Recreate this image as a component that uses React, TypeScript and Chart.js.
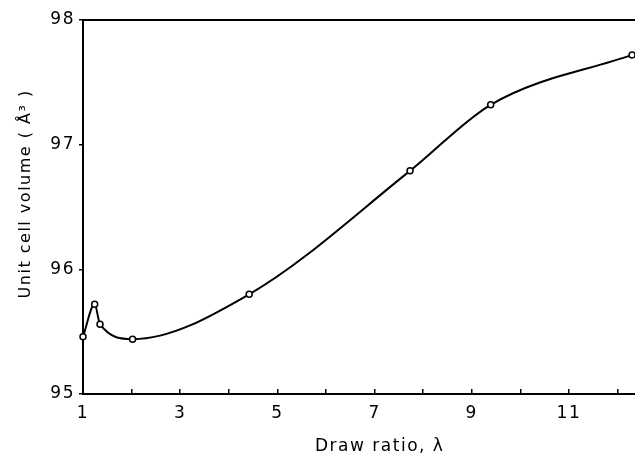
import React, { useEffect, useRef } from "react";
import { Chart, registerables } from "chart.js";

Chart.register(...registerables);

const drawRatio = [1.0, 1.24, 1.35, 2.02, 4.42, 7.73, 9.39, 12.3];
const cellVolume = [95.46, 95.72, 95.56, 95.44, 95.8, 96.79, 97.32, 97.72];
const xTickLabels = [1, 3, 5, 7, 9, 11];
const yTickLabels = [95, 96, 97, 98];

const FONT = "'DejaVu Sans', sans-serif";

export default function App() {
  const ref = useRef<HTMLCanvasElement>(null);
  useEffect(() => {
    const canvas = ref.current!;
    const spacing = {
      id: "spacing",
      beforeDraw(chart: any) {
        chart.ctx.letterSpacing = "1.5px";
      },
    };
    const stretchRight = {
      id: "stretchRight",
      afterLayout(chart: any) {
        const right = chart.width;
        chart.chartArea.right = right;
        chart.chartArea.width = right - chart.chartArea.left;
        Object.values(chart.scales).forEach((s: any) => {
          if (s.isHorizontal()) {
            s.right = right;
            s.width = right - s.left;
            s.configure();
          }
        });
      },
    };
    const zeroPad = (s: any) => {
      s.paddingLeft = 0;
      s.paddingRight = 0;
    };
    const chart = new Chart(canvas, {
      type: "scatter",
      data: {
        datasets: [
          {
            data: drawRatio.map((x, i) => ({ x, y: cellVolume[i] })),
            showLine: true,
            cubicInterpolationMode: "monotone",
            borderColor: "#000",
            borderWidth: 2,
            pointRadius: 3,
            pointBorderWidth: 1.5,
            pointBackgroundColor: "#fff",
            pointBorderColor: "#000",
          },
        ],
      },
      options: {
        responsive: false,
        animation: false,
        clip: false as any,
        layout: { padding: { left: 0, right: 0, top: 0, bottom: 0 } },
        plugins: { legend: { display: false }, tooltip: { enabled: false } },
        scales: {
          x: {
            type: "linear",
            position: "bottom",
            min: 1,
            max: 12.36,
            afterBuildTicks: (s: any) => {
              const t = [];
              for (let v = 1; v <= 12; v++) t.push({ value: v });
              s.ticks = t;
            },
            afterFit: (s: any) => {
              s.height = 65;
              zeroPad(s);
            },
            ticks: {
              color: "#000",
              font: { family: FONT, size: 17 },
              padding: 14,
              maxRotation: 0,
              autoSkip: false,
              callback: (v: any) => (xTickLabels.includes(v) ? String(v) : ""),
            },
            grid: {
              drawOnChartArea: false,
              drawTicks: true,
              tickLength: -5,
              color: "#000",
              lineWidth: 1.5,
            },
            border: { display: true, color: "#000", width: 2 },
            title: {
              display: true,
              text: "      Draw ratio, λ",
              color: "#000",
              font: { family: FONT, size: 17 },
              padding: { top: 0, bottom: 2 },
            },
          },
          x2: {
            type: "linear",
            position: "top",
            min: 1,
            max: 12.36,
            afterFit: (s: any) => {
              s.height = 20;
              zeroPad(s);
            },
            ticks: { display: false, padding: 0 },
            grid: { display: false, drawTicks: false },
            border: { display: true, color: "#000", width: 2 },
          },
          y: {
            type: "linear",
            min: 95,
            max: 98,
            afterBuildTicks: (s: any) => {
              s.ticks = yTickLabels.map((v) => ({ value: v }));
            },
            afterFit: (s: any) => {
              s.width = 83;
              s.paddingLeft = 0;
              s.paddingRight = 0;
            },
            ticks: {
              color: "#000",
              font: { family: FONT, size: 17 },
              padding: 4,
              callback: (v: any) => String(v),
            },
            grid: {
              drawOnChartArea: false,
              drawTicks: true,
              tickLength: 4,
              color: "#000",
              lineWidth: 1.5,
            },
            border: { display: true, color: "#000", width: 2 },
            title: {
              display: true,
              text: "    Unit cell volume ( Å³ )",
              color: "#000",
              font: { family: FONT, size: 16 },
              padding: { top: 16, bottom: 0 },
            },
          },
        },
      },
      plugins: [spacing, stretchRight],
    } as any);
    return () => chart.destroy();
  }, []);
  return (
    <div style={{ position: "fixed", left: 0, top: 0, width: 635, height: 459, background: "#fff" }}>
      <canvas ref={ref} width={635} height={459} style={{ width: 635, height: 459 }} />
    </div>
  );
}
